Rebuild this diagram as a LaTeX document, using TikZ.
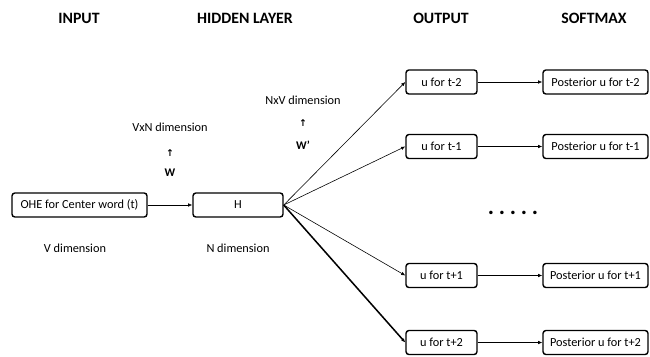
\documentclass[tikz,border=0pt]{standalone}
\usepackage{fontspec}
\setmainfont{Carlito}
\newfontfamily\symfont{DejaVu Sans}
\usetikzlibrary{arrows.meta}

\tikzset{
  layerbox/.style={draw, line width=1.2pt, rounded corners=2.5pt, minimum height=0.72cm,
    font=\fontsize{10.5}{12}\selectfont, inner sep=0pt},
  headtxt/.style={font=\fontsize{13.5}{16}\selectfont\bfseries},
  dimtxt/.style={font=\fontsize{10.5}{12}\selectfont},
  flow/.style={-{Latex[length=3.5pt,width=3pt]}, line width=0.5pt}
}

\begin{document}
\begin{tikzpicture}[x=0.03cm, y=-0.03cm]
                \useasboundingbox (0,0) rectangle (650,356);
                % column heads
                \node[headtxt] (hin) at (79,18) {INPUT};
                \node[headtxt] (hhid) at (245,18) {HIDDEN LAYER};
                \node[headtxt] (hout) at (441,18) {OUTPUT};
                \node[headtxt] (hsm) at (594,18) {SOFTMAX};
                % input and hidden layer
                \node[layerbox, minimum width=4.05cm] (ohe) at (79.5,205) {OHE for Center word (t)};
                \node[layerbox, minimum width=2.7cm] (h) at (238,205) {H};
                \node[dimtxt] (vdim) at (75,248) {V dimension};
                \node[dimtxt] (ndim) at (238,248) {N dimension};
                % weights
                \node[dimtxt] (vxn) at (170,127) {VxN dimension};
                \node[font=\symfont\bfseries\fontsize{8}{9}\selectfont] (upw) at (170,153) {↑};
                \node[dimtxt, font=\bfseries] (w) at (170,173) {W};
                \node[dimtxt] (nxv) at (303,100) {NxV dimension};
                \node[font=\symfont\bfseries\fontsize{8}{9}\selectfont] (upwp) at (303,123) {↑};
                \node[dimtxt, font=\bfseries] (wp) at (303,145) {W’};
                % output and softmax
                \node[layerbox, minimum width=2.13cm] (um2) at (441.5,82) {u for t-2};
                \node[layerbox, minimum width=2.13cm] (um1) at (441.5,146.5) {u for t-1};
                \node[layerbox, minimum width=2.13cm] (up1) at (441.5,275.5) {u for t+1};
                \node[layerbox, minimum width=2.13cm] (up2) at (441.5,342.5) {u for t+2};
                \node[layerbox, minimum width=3.15cm] (pm2) at (595.5,82) {Posterior u for t-2};
                \node[layerbox, minimum width=3.15cm] (pm1) at (595.5,146.5) {Posterior u for t-1};
                \node[layerbox, minimum width=3.15cm] (pp1) at (595.5,275.5) {Posterior u for t+1};
                \node[layerbox, minimum width=3.15cm] (pp2) at (595.5,342.5) {Posterior u for t+2};
                \node[font=\fontsize{20}{22}\selectfont\bfseries, inner sep=0pt] (dots) at (513,213) {.\hspace{4pt}.\hspace{4pt}.\hspace{4pt}.\hspace{4pt}.};
                % connectors
                \draw[flow] (ohe) -- (h);
                \draw[flow] (h.east) -- (um2.west);
                \draw[flow] (h.east) -- (um1.west);
                \draw[flow] (h.east) -- (up1.west);
                \draw[flow, line width=1.3pt] (h.east) -- (up2.west);
                \draw[flow] (um2) -- (pm2);
                \draw[flow] (um1) -- (pm1);
                \draw[flow] (up1) -- (pp1);
                \draw[flow] (up2) -- (pp2);
            \end{tikzpicture}
\end{document}
